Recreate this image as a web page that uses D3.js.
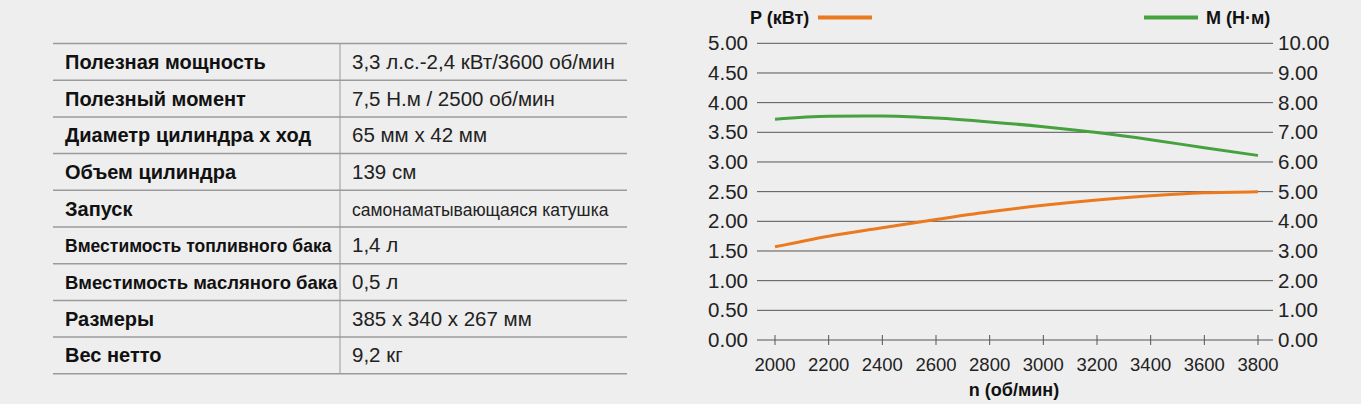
<!DOCTYPE html>
<html>
<head>
<meta charset="utf-8">
<script src="https://cdn.jsdelivr.net/npm/d3@7"></script>
<style>
  body { margin:0; background:#eeeeee; }
  svg { display:block; font-family:"Liberation Sans", Arial, sans-serif; }
</style>
</head>
<body>
<svg id="chart" width="1361" height="404"></svg>
<script>
// spec table
var specLabels = ['Полезная мощность','Полезный момент','Диаметр цилиндра x ход','Объем цилиндра','Запуск',
  'Вместимость топливного бака','Вместимость масляного бака','Размеры','Вес нетто']
var specValues = ['3,3 л.с.-2,4 кВт/3600 об/мин','7,5 Н.м / 2500 об/мин','65 мм x 42 мм','139 см',
  'самонаматывающаяся катушка','1,4 л','0,5 л','385 x 340 x 267 мм','9,2 кг']

// curves
var rpm = [2000,2200,2400,2600,2800,3000,3200,3400,3600,3800]
var power = [1.57,1.75,1.89,2.03,2.16,2.27,2.36,2.43,2.48,2.50]
var torque = [7.44,7.54,7.55,7.48,7.35,7.19,6.99,6.75,6.48,6.22]
var leftTicks = [0,0.5,1,1.5,2,2.5,3,3.5,4,4.5,5]
var rightTicks = [0,1,2,3,4,5,6,7,8,9,10]
var xTicks = [2000,2200,2400,2600,2800,3000,3200,3400,3600,3800]

var svg = d3.select('#chart')

// ---- table
var tX0 = 53, tX1 = 627, tMid = 340, tTop = 43.5, rowH = 36.7
var table = svg.append('g')

function fit(sel, size, maxW){
  sel.attr('font-size',size)
  while (sel.node().getComputedTextLength() > maxW && size > 10){
    size -= 0.5; sel.attr('font-size',size)
  }
}

specLabels.forEach(function(d,i){
  var y = tTop + i*rowH
  var lab = table.append('text').attr('x',65).attr('y',y + rowH/2 + 7)
    .attr('font-weight','bold').attr('fill','#111').text(d)
  fit(lab, 20, tMid - 67)
  var val = table.append('text').attr('x',352).attr('y',y + rowH/2 + 7)
    .attr('fill','#222').text(specValues[i])
  fit(val, 20.5, tX1 - 364)
})
table.selectAll('line.row').data(d3.range(specLabels.length+1)).enter()
  .append('line').attr('class','row')
  .attr('x1',tX0).attr('x2',tX1)
  .attr('y1',function(i){ return tTop + i*rowH }).attr('y2',function(i){ return tTop + i*rowH })
  .attr('stroke','#9a9a9a').attr('stroke-width',1.5)
table.append('line').attr('x1',tMid).attr('x2',tMid).attr('y1',tTop).attr('y2',tTop + specLabels.length*rowH)
  .attr('stroke','#9a9a9a').attr('stroke-width',1)

// ---- chart
var x = d3.scaleLinear().domain([2000,3800]).range([775,1258])
var yL = d3.scaleLinear().domain([0,5]).range([340,43.3])
var yR = d3.scaleLinear().domain([0,10]).range([340,43.3])
var gx0 = 757, gx1 = 1273

svg.append('g').selectAll('line').data(leftTicks).enter().append('line')
  .attr('x1',gx0).attr('x2',gx1)
  .attr('y1',function(d){ return yL(d) }).attr('y2',function(d){ return yL(d) })
  .attr('stroke','#555').attr('stroke-width',1)

svg.append('g').selectAll('text').data(leftTicks).enter().append('text')
  .attr('x',748).attr('y',function(d){ return yL(d) + 7 })
  .attr('text-anchor','end').attr('font-size',20.5).attr('fill','#222')
  .text(function(d){ return d.toFixed(2) })

svg.append('g').selectAll('text').data(rightTicks).enter().append('text')
  .attr('x',1278).attr('y',function(d){ return yR(d) + 7 })
  .attr('font-size',20.5).attr('fill','#222')
  .text(function(d){ return d.toFixed(2) })

var xAxis = svg.append('g').attr('transform','translate(0,' + yL(0) + ')')
xAxis.selectAll('line').data(xTicks).enter().append('line')
  .attr('x1',function(d){ return x(d) }).attr('x2',function(d){ return x(d) })
  .attr('y1',-5).attr('y2',5).attr('stroke','#555').attr('stroke-width',1)
xAxis.selectAll('text').data(xTicks).enter().append('text')
  .attr('x',function(d){ return x(d) }).attr('y',31)
  .attr('text-anchor','middle').attr('font-size',18.5).attr('fill','#222')
  .text(function(d){ return d })

svg.append('text').attr('x',1014).attr('y',396).attr('text-anchor','middle')
  .attr('font-weight','bold').attr('font-size',18).attr('fill','#111').text('n (об/мин)')

var lineP = d3.line().x(function(d,i){ return x(rpm[i]) }).y(function(d){ return yL(d) }).curve(d3.curveMonotoneX)
var lineM = d3.line().x(function(d,i){ return x(rpm[i]) }).y(function(d){ return yR(d) }).curve(d3.curveMonotoneX)

svg.append('path').datum(torque).attr('d',lineM).attr('fill','none')
  .attr('stroke','#46a23e').attr('stroke-width',3)
svg.append('path').datum(power).attr('d',lineP).attr('fill','none')
  .attr('stroke','#eb7a1f').attr('stroke-width',3)

// legend
svg.append('text').attr('x',750).attr('y',24).attr('font-weight','bold').attr('font-size',18)
  .attr('fill','#111').text('P (кВт)')
svg.append('line').attr('x1',818).attr('x2',872).attr('y1',17.5).attr('y2',17.5)
  .attr('stroke','#eb7a1f').attr('stroke-width',4)
svg.append('line').attr('x1',1144).attr('x2',1198).attr('y1',17.5).attr('y2',17.5)
  .attr('stroke','#46a23e').attr('stroke-width',4)
svg.append('text').attr('x',1206).attr('y',24).attr('font-weight','bold').attr('font-size',18)
  .attr('fill','#111').text('M (Н·м)')
</script>
</body>
</html>
